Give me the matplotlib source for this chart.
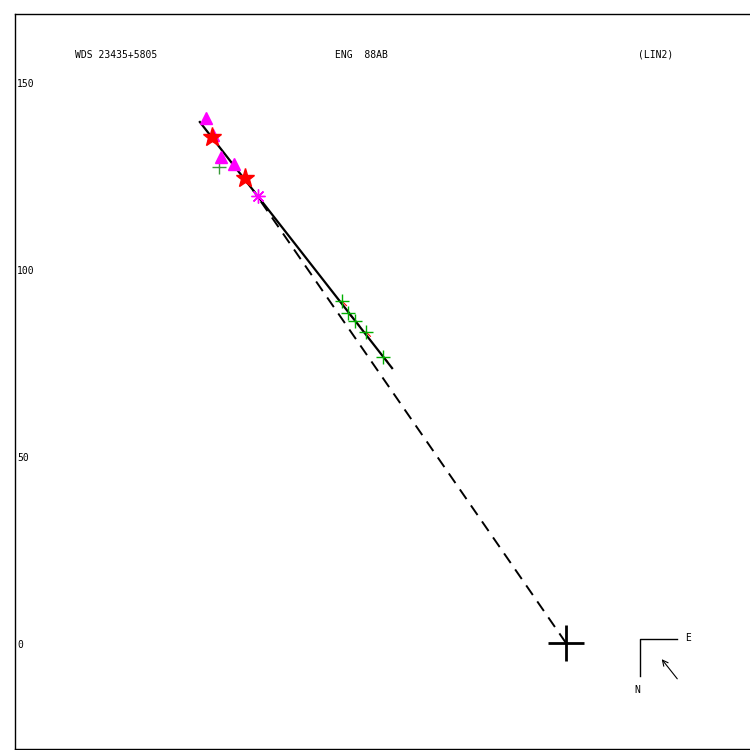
import matplotlib
matplotlib.use("Agg")
import matplotlib.pyplot as plt

# ---- data (plot units) ----
tri_x = [-96.3, -94.4, -92.2, -88.8]
tri_y = [140.4, 135.8, 129.9, 128.0]
star_x = [-94.7, -85.8]
star_y = [135.3, 124.3]
gplus_dark_x = [-92.8]
gplus_dark_y = [127.3]
ast_x = [-82.4]
ast_y = [119.5]
green_x = [-59.9, -58.3, -56.4, -53.5, -48.9]
green_y = [91.4, 88.2, 86.1, 83.2, 76.5]
fit_x = [-97.9, -46.5]
fit_y = [139.3, 73.5]
dash_x = [0.0, -83.7]
dash_y = [0.0, 121.1]
yticks = [0, 50, 100, 150]
title_left = "WDS 23435+5805"
title_mid = "ENG  88AB"
title_right = "(LIN2)"

# ---- figure ----
S = 3.74  # px per unit
ox, oy = 566, 643
W = H = 750
fig = plt.figure(figsize=(7.5, 7.5), dpi=100)
L, R, T, B = 15, 752, 14, 749
ax = fig.add_axes([L / W, 1 - B / H, (R - L) / W, (B - T) / H])
ax.set_xlim((L - ox) / S, (R - ox) / S)
ax.set_ylim((oy - B) / S, (oy - T) / S)
ax.set_xticks([])
ax.set_yticks([])
for sp in ax.spines.values():
    sp.set_linewidth(1.0)
    sp.set_color("black")

mono = "DejaVu Sans Mono"
fs = 7

def px(x):
    return (x - ox) / S
def py(y):
    return (oy - y) / S

# fitted line and dashed line
ax.plot(fit_x, fit_y, color="black", lw=1.6, zorder=3)
ax.plot(dash_x, dash_y, color="black", lw=1.4, ls=(0, (6, 4)), zorder=2)

# O-C small red segments for green points
for gx, gy in zip(green_x, green_y):
    ax.plot([gx, gx + 1.2], [gy, gy - 1.2], color="red", lw=0.8, zorder=2)

ax.plot(green_x, green_y, ls="none", marker="+", ms=10, mew=1.0, color="#00b000", zorder=4)
ax.plot(gplus_dark_x, gplus_dark_y, ls="none", marker="+", ms=10, mew=1.0, color="#3a9a3a", zorder=4)
ax.plot(tri_x, tri_y, ls="none", marker="^", ms=9, color="magenta", mec="magenta", zorder=4)
ax.plot(star_x, star_y, ls="none", marker="*", ms=14, color="red", mec="red", zorder=5)
ax.plot(ast_x, ast_y, ls="none", marker=(8, 2, 0), ms=10, mew=1.0, color="magenta", zorder=5)

# origin cross
ax.plot([0], [0], ls="none", marker="+", ms=26, mew=2.0, color="black", zorder=6)

# titles
ax.text(px(75), py(55), title_left, fontsize=fs, family=mono, va="center", ha="left")
ax.text(px(335), py(55), title_mid, fontsize=fs, family=mono, va="center", ha="left")
ax.text(px(638), py(55), title_right, fontsize=fs, family=mono, va="center", ha="left")

for t in yticks:
    ax.text(px(17), t - 0.5, str(t), fontsize=fs, family=mono, va="center", ha="left")

# compass
ax.plot([px(677), px(640), px(640)], [py(639), py(639), py(676)], color="black", lw=1.0)
ax.annotate("", xy=(px(660), py(657)), xytext=(px(679), py(681)),
            arrowprops=dict(arrowstyle="->", lw=0.8, color="black", mutation_scale=10))
ax.text(px(685), py(638), "E", fontsize=fs, family=mono, va="center", ha="left")
ax.text(px(637), py(690), "N", fontsize=fs, family=mono, va="center", ha="center")

fig.savefig("out.png", dpi=100)
